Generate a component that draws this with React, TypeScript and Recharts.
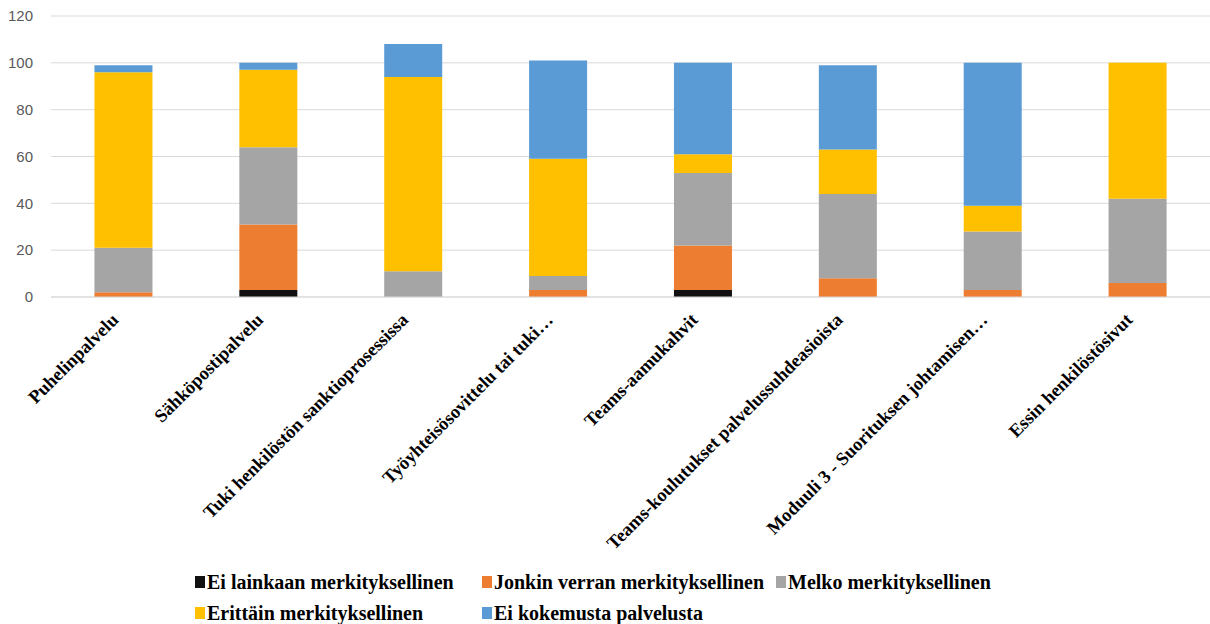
import React from 'react';
import { BarChart, Bar, XAxis, YAxis, CartesianGrid } from 'recharts';

const categories = [
  'Puhelinpalvelu',
  'Sähköpostipalvelu',
  'Tuki henkilöstön sanktioprosessissa',
  'Työyhteisösovittelu tai tuki…',
  'Teams-aamukahvit',
  'Teams-koulutukset palvelussuhdeasioista',
  'Moduuli 3 - Suorituksen johtamisen…',
  'Essin henkilöstösivut',
];

const eiLainkaan = [0, 3, 0, 0, 3, 0, 0, 0];
const jonkinVerran = [2, 28, 0, 3, 19, 8, 3, 6];
const melko = [19, 33, 11, 6, 31, 36, 25, 36];
const erittain = [75, 33, 83, 50, 8, 19, 11, 58];
const eiKokemusta = [3, 3, 14, 42, 39, 36, 61, 0];

const yTicks = [0, 20, 40, 60, 80, 100, 120];

const series = [
  { key: 'eiLainkaan', name: 'Ei lainkaan merkityksellinen', color: '#111111' },
  { key: 'jonkinVerran', name: 'Jonkin verran merkityksellinen', color: '#ED7D31' },
  { key: 'melko', name: 'Melko merkityksellinen', color: '#A5A5A5' },
  { key: 'erittain', name: 'Erittäin merkityksellinen', color: '#FFC000' },
  { key: 'eiKokemusta', name: 'Ei kokemusta palvelusta', color: '#5B9BD5' },
];

const data = categories.map((name, i) => ({
  name,
  eiLainkaan: eiLainkaan[i],
  jonkinVerran: jonkinVerran[i],
  melko: melko[i],
  erittain: erittain[i],
  eiKokemusta: eiKokemusta[i],
}));

const serif = "'Liberation Serif', 'Times New Roman', serif";

function XTick(props: any) {
  const { x, y, payload } = props;
  return (
    <g transform={`translate(${x - 4},${y + 16})`}>
      <text
        x={0}
        y={0}
        textAnchor="end"
        transform="rotate(-45)"
        fontFamily={serif}
        fontWeight="bold"
        fontSize={18.5}
        fill="#000"
      >
        {payload.value}
      </text>
    </g>
  );
}

// legend drawn as plain html under the plot, two rows like the original
function LegendBox() {
  const cols = [195, 482, 776];
  return (
    <>
      {series.map((s, i) => {
        const row = i < 3 ? 0 : 1;
        const col = i < 3 ? i : i - 3;
        return (
          <div
            key={s.key}
            style={{
              position: 'absolute',
              left: cols[col],
              top: 570 + row * 31,
              display: 'flex',
              alignItems: 'center',
              whiteSpace: 'nowrap',
              lineHeight: '24px',
              fontFamily: serif,
              fontWeight: 700,
              fontSize: 20,
              color: '#000',
            }}
          >
            <span style={{ display: 'inline-block', width: 10, height: 12, background: s.color, marginRight: 2 }} />
            <span style={{ fontFamily: serif }}>{s.name}</span>
          </div>
        );
      })}
    </>
  );
}

export default function App() {
  return (
    <div style={{ position: 'relative', width: 1210, height: 624 }}>
      <style>{`body{margin:0}`}</style>
      <BarChart
        width={1210}
        height={624}
        data={data}
        margin={{ top: 16, right: 0, bottom: 0, left: 0 }}
        barCategoryGap="30%"
      >
        <CartesianGrid vertical={false} stroke="#d9d9d9" />
        <YAxis
          domain={[0, 120]}
          ticks={yTicks}
          width={51}
          axisLine={false}
          tickLine={false}
          tick={{ fill: '#595959', fontSize: 15, fontFamily: "'Liberation Sans', Arial, sans-serif" }}
          tickMargin={12}
        />
        <XAxis
          dataKey="name"
          interval={0}
          height={327}
          axisLine={{ stroke: '#d9d9d9' }}
          tickLine={false}
          tick={<XTick />}
        />
        {series.map((s) => (
          <Bar key={s.key} dataKey={s.key} name={s.name} stackId="a" fill={s.color} isAnimationActive={false} />
        ))}
      </BarChart>
      <LegendBox />
    </div>
  );
}
